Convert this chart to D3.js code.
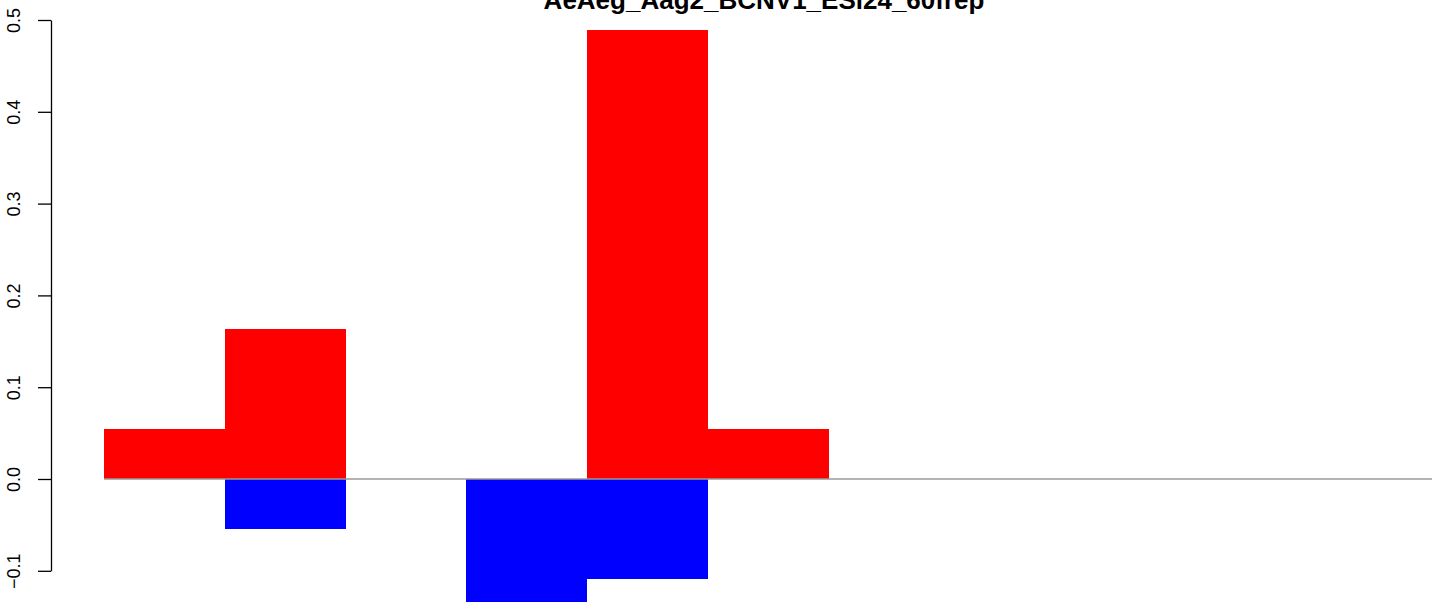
<!DOCTYPE html>
<html>
<head>
<meta charset="utf-8">
<script src="https://cdn.jsdelivr.net/npm/d3@7"></script>
<style>
  body { margin: 0; background: #fff; }
  svg { display: block; font-family: "Liberation Sans", Arial, Helvetica, sans-serif; }
</style>
</head>
<body>
<svg id="chart"></svg>
<script>
// chart data
const title = "AeAeg_Aag2_BCNV1_ESl24_60frep";
const categories = ["1", "2", "3", "4", "5", "6", "7", "8", "9", "10", "11"];
const upValues = [0.0543, 0.163, 0, 0, 0.489, 0.0543, 0, 0, 0, 0, 0];
const downValues = [0, -0.0543, 0, -0.163, -0.1087, 0, 0, 0, 0, 0, 0];
const yTicks = [-0.1, 0.0, 0.1, 0.2, 0.3, 0.4, 0.5];

const width = 1444, height = 602;
const margin = {top: 20, left: 51, plotLeft: 104, plotRight: 1432};

let svg = d3.select('#chart')
  .attr("width", width)
  .attr("height", height);

// scales
let x = d3.scaleBand()
  .domain(categories)
  .range([margin.plotLeft, margin.plotRight])
  .padding(0);

let y = d3.scaleLinear()
  .domain([-0.1, 0.5])
  .range([570.8, margin.top]);

// title (cropped at the top like the original)
svg.append("text")
  .attr("x", (margin.plotLeft + margin.plotRight) / 2 - 4)
  .attr("y", 9)
  .attr("text-anchor", "middle")
  .style("font-weight", "bold")
  .style("font-size", "26px")
  .text(title);

// positive bars
svg.append("g").attr("shape-rendering", "crispEdges").selectAll("rect")
    .data(categories.map((c, i) => ({c: c, v: upValues[i]})).filter(d => d.v > 0))
  .enter().append("rect")
    .attr("x", d => x(d.c))
    .attr("width", x.bandwidth() + 0.5)
    .attr("y", d => y(d.v))
    .attr("height", d => y(0) - y(d.v))
    .attr("fill", "#ff0000");

// negative bars
svg.append("g").attr("shape-rendering", "crispEdges").selectAll("rect")
    .data(categories.map((c, i) => ({c: c, v: downValues[i]})).filter(d => d.v < 0))
  .enter().append("rect")
    .attr("x", d => x(d.c))
    .attr("width", x.bandwidth() + 0.5)
    .attr("y", y(0))
    .attr("height", d => y(d.v) - y(0))
    .attr("fill", "#0000ff");

// zero line
svg.append("line")
  .attr("x1", margin.plotLeft)
  .attr("x2", margin.plotRight)
  .attr("y1", y(0))
  .attr("y2", y(0))
  .attr("stroke", "#9a9a9a")
  .attr("stroke-width", 1.3);

// y axis, R style with rotated labels
let axis = svg.append("g")
  .attr("transform", "translate(" + margin.left + ",0)")
  .call(d3.axisLeft(y).tickValues(yTicks).tickFormat(d3.format(".1f")).tickSize(13).tickSizeOuter(0));

axis.select(".domain").attr("stroke", "#000").attr("stroke-width", 1.3);
axis.selectAll(".tick line").attr("stroke", "#000").attr("stroke-width", 1.3);
axis.selectAll(".tick text")
  .attr("x", null)
  .attr("dy", null)
  .attr("text-anchor", "middle")
  .attr("transform", "translate(-31,0) rotate(-90)")
  .style("font-size", "18px")
  .style("font-family", "\"Liberation Sans\", Arial, Helvetica, sans-serif")
  .attr("fill", "#000")
  .text(d => d < 0 ? "\u2212" + Math.abs(d).toFixed(1) : d.toFixed(1));
</script>
</body>
</html>
